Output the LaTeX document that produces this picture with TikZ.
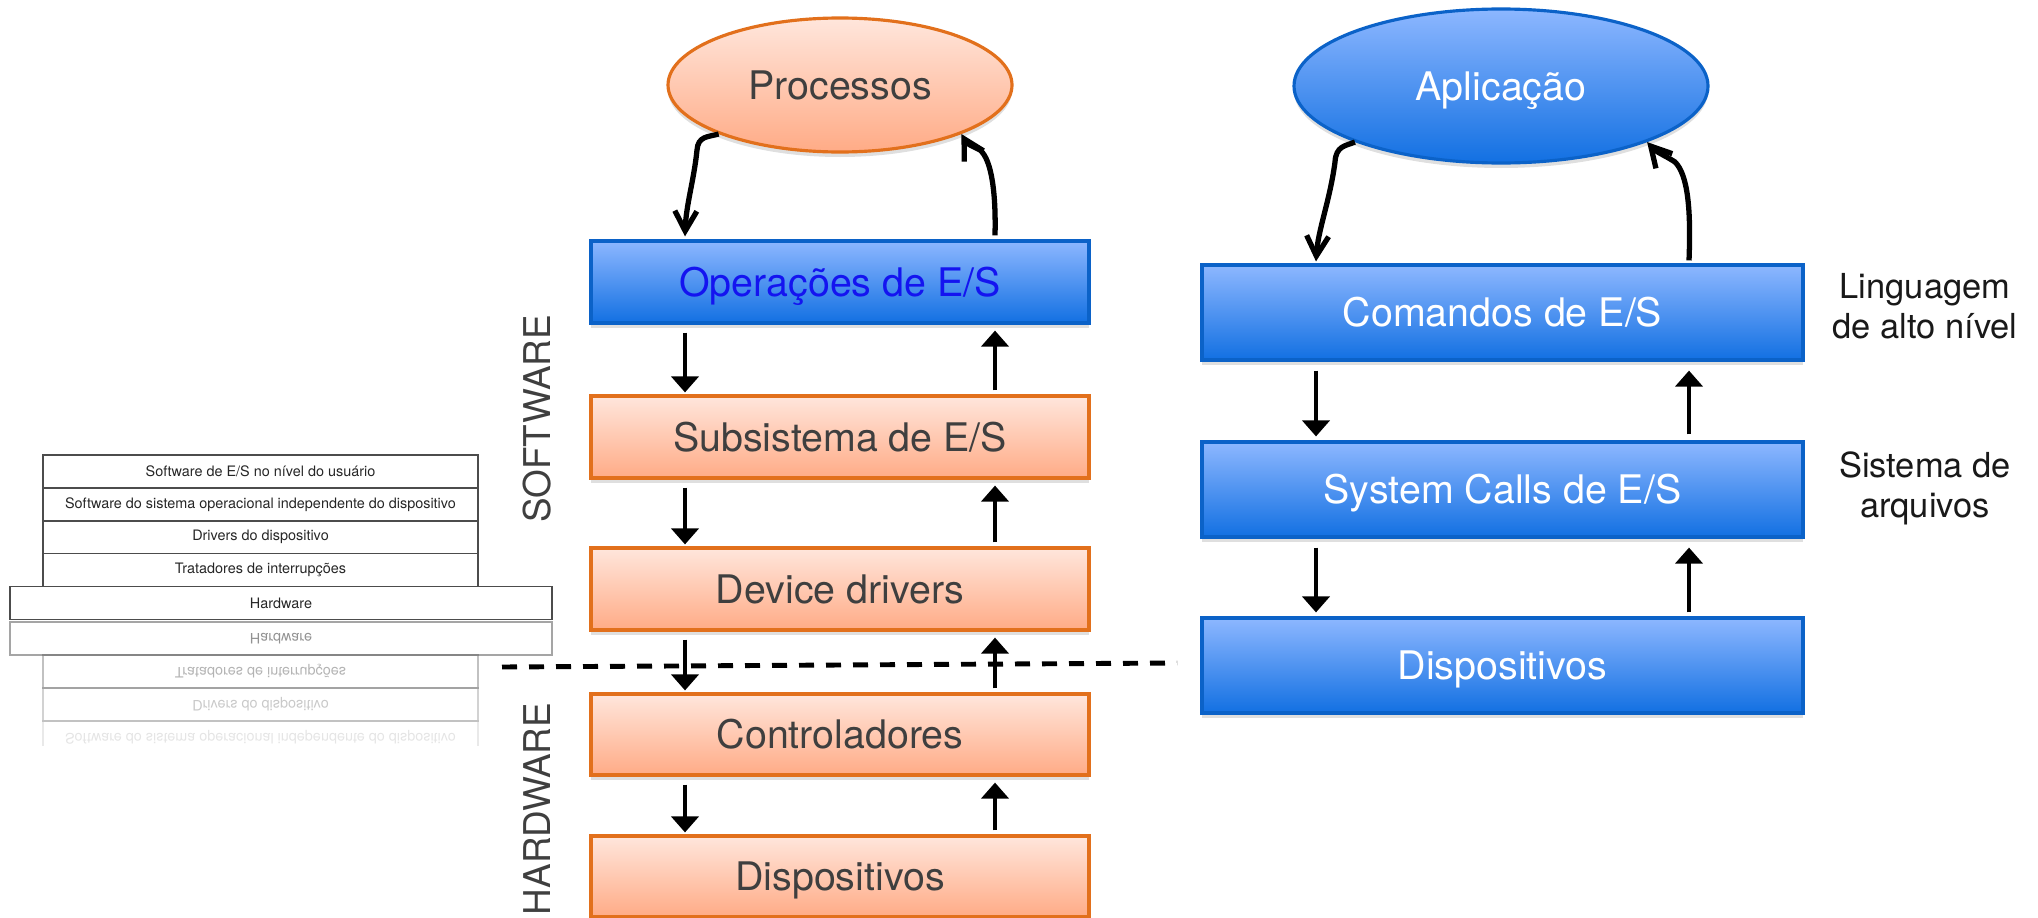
\documentclass[tikz,border=0pt]{standalone}
\usepackage{fontspec}
\setmainfont{TeX Gyre Heros}
\usepackage{graphicx}
\usetikzlibrary{shapes.geometric,arrows.meta,shadows}

\definecolor{laranja}{HTML}{E2701C}
\definecolor{laranjaA}{HTML}{FFE6DC}
\definecolor{laranjaB}{HTML}{FFAB86}
\definecolor{azul}{HTML}{0B62C8}
\definecolor{azulA}{HTML}{8DB7FF}
\definecolor{azulB}{HTML}{1270E2}
\definecolor{cinza}{HTML}{3F3F3F}
\definecolor{azultexto}{HTML}{1414F0}

\begin{document}
\begin{tikzpicture}

      \tikzset{sombra/.style={drop shadow={shadow xshift=0pt, shadow yshift=-0.5mm, opacity=0.25}},
               fonte/.style={font=\fontsize{11.2}{13}\selectfont, text height=8pt, text depth=0pt},
               caixaL/.style={rectangle, draw=laranja, line width=0.9pt, top color=laranjaA, bottom color=laranjaB, inner sep=0pt, minimum width=4.98cm, minimum height=0.82cm, text=cinza, fonte, sombra},
               caixaA/.style={rectangle, draw=azul, line width=0.9pt, top color=azulA, bottom color=azulB, inner sep=0pt, minimum width=6.01cm, minimum height=0.95cm, text=white, fonte, sombra},
               elipse/.style={ellipse, line width=0.9pt, inner sep=0pt, fonte, sombra},
               seta/.style={line width=1.4pt, -{Triangle[length=1.6mm, width=2.7mm]}},
               curva/.style={line width=1.5pt, -{Straight Barb[length=2mm, width=2.2mm]}},
               linha/.style={rectangle, draw=black!70, line width=0.5pt, inner sep=0pt, minimum height=0.33cm, text=black!85, font=\fontsize{4.1}{5}\selectfont},
               rotulo/.style={align=center, text=black!90, font=\fontsize{9.8}{11.4}\selectfont}}

      \useasboundingbox (0,0) rectangle (20.38,-9.18);

%% Table
      	\node[linha, minimum width=4.35cm] (t1) at (2.605,-4.715) {Software de E/S no nível do usuário};
      	\node[linha, minimum width=4.35cm] (t2) at (2.605,-5.045) {Software do sistema operacional independente do dispositivo};
      	\node[linha, minimum width=4.35cm] (t3) at (2.605,-5.37) {Drivers do dispositivo};
      	\node[linha, minimum width=4.35cm] (t4) at (2.605,-5.70) {Tratadores de interrupções};
      	\node[linha, minimum width=5.42cm] (t5) at (2.81,-6.03) {Hardware};
      	\node[linha, minimum width=5.42cm, opacity=0.5] (r5) at (2.81,-6.385) {\scalebox{1}[-1]{Hardware}};
      	\node[linha, minimum width=4.35cm, opacity=0.35] (r4) at (2.605,-6.715) {\scalebox{1}[-1]{Tratadores de interrupções}};
      	\node[linha, minimum width=4.35cm, opacity=0.25] (r3) at (2.605,-7.045) {\scalebox{1}[-1]{Drivers do dispositivo}};
      	\begin{scope}
      	\clip (0,-7.2) rectangle (6,-7.45);
      	\node[linha, minimum width=4.35cm, opacity=0.12] (r2) at (2.605,-7.375) {\scalebox{1}[-1]{Software do sistema operacional independente do dispositivo}};
      	\end{scope}

%% Labels
      	\node[rotulo, rotate=90, font=\fontsize{10.5}{12}\selectfont, text=cinza] (soft) at (5.375,-4.19) {SOFTWARE};
      	\node[rotulo, rotate=90, font=\fontsize{10.5}{12}\selectfont, text=cinza] (hard) at (5.375,-8.09) {HARDWARE};
      	\node[rotulo] (ling) at (19.25,-3.06) {Linguagem\\de alto nível};
      	\node[rotulo] (sist) at (19.25,-4.88) {Sistema de\\arquivos};

%Divider
      	\coordinate (tracoA) at (5.02,-6.67);
      	\coordinate (tracoB) at (11.77,-6.63);
      	\draw[line width=1.4pt, dash pattern=on 1.5mm off 1.2mm] (tracoA) -- (tracoB);

%% Left column
      	\node[elipse, draw=laranja, top color=laranjaA, bottom color=laranjaB, text=cinza, minimum width=3.44cm, minimum height=1.34cm] (proc) at (8.40,-0.85) {Processos};
      	\node[caixaA, minimum width=4.98cm, minimum height=0.82cm, text=azultexto] (op) at (8.40,-2.82) {Operações de E/S};
      	\node[caixaL] (sub) at (8.40,-4.37) {Subsistema de E/S};
      	\node[caixaL] (dd) at (8.40,-5.89) {Device drivers};
      	\node[caixaL, minimum height=0.81cm] (ctrl) at (8.40,-7.345) {Controladores};
      	\node[caixaL, minimum height=0.81cm] (disp) at (8.40,-8.765) {Dispositivos};

%% Right column
      	\node[elipse, draw=azul, top color=azulA, bottom color=azulB, text=white, minimum width=4.14cm, minimum height=1.54cm] (apl) at (15.01,-0.86) {Aplicação};
      	\node[caixaA] (cmd) at (15.025,-3.125) {Comandos de E/S};
      	\node[caixaA] (sc) at (15.025,-4.895) {System Calls de E/S};
      	\node[caixaA] (disp2) at (15.025,-6.655) {Dispositivos};

%Arrows
		\draw[curva] (proc.202) .. controls (7.08,-1.37) and (6.98,-1.36) .. (6.97,-1.50) .. controls (6.94,-1.80) and (6.86,-2.05) .. ([xshift=-1.55cm, yshift=0.3mm]op.north);
		\draw[curva] ([xshift=1.55cm, yshift=0.4mm]op.north) .. controls (9.96,-1.95) and (9.92,-1.60) .. (9.80,-1.50) .. controls (9.72,-1.46) and (9.67,-1.44) .. (proc.338);
		\draw[seta] ([xshift=-1.55cm, yshift=-0.8mm]op.south) -- ([xshift=-1.55cm, yshift=0.2mm]sub.north);
		\draw[seta] ([xshift=1.55cm, yshift=0.4mm]sub.north) -- ([xshift=1.55cm, yshift=-0.6mm]op.south);
		\draw[seta] ([xshift=-1.55cm, yshift=-0.8mm]sub.south) -- ([xshift=-1.55cm, yshift=0.2mm]dd.north);
		\draw[seta] ([xshift=1.55cm, yshift=0.4mm]dd.north) -- ([xshift=1.55cm, yshift=-0.6mm]sub.south);
		\draw[seta] ([xshift=-1.55cm, yshift=-0.8mm]dd.south) -- ([xshift=-1.55cm, yshift=0.2mm]ctrl.north);
		\draw[seta] ([xshift=1.55cm, yshift=0.4mm]ctrl.north) -- ([xshift=1.55cm, yshift=-0.6mm]dd.south);
		\draw[seta] ([xshift=-1.55cm, yshift=-0.8mm]ctrl.south) -- ([xshift=-1.55cm, yshift=0.2mm]disp.north);
		\draw[seta] ([xshift=1.55cm, yshift=0.4mm]disp.north) -- ([xshift=1.55cm, yshift=-0.6mm]ctrl.south);

		\draw[curva] (apl.201) .. controls (13.45,-1.46) and (13.36,-1.46) .. (13.35,-1.62) .. controls (13.30,-2.0) and (13.18,-2.3) .. ([xshift=-1.865cm, yshift=0.2mm]cmd.north);
		\draw[curva] ([xshift=1.865cm, yshift=0.3mm]cmd.north) .. controls (16.91,-2.1) and (16.88,-1.75) .. (16.75,-1.62) .. controls (16.66,-1.56) and (16.56,-1.52) .. (apl.339);
		\draw[seta] ([xshift=-1.865cm, yshift=-0.9mm]cmd.south) -- ([xshift=-1.865cm, yshift=0.4mm]sc.north);
		\draw[seta] ([xshift=1.865cm, yshift=0.6mm]sc.north) -- ([xshift=1.865cm, yshift=-0.9mm]cmd.south);
		\draw[seta] ([xshift=-1.865cm, yshift=-0.9mm]sc.south) -- ([xshift=-1.865cm, yshift=0.4mm]disp2.north);
		\draw[seta] ([xshift=1.865cm, yshift=0.4mm]disp2.north) -- ([xshift=1.865cm, yshift=-0.9mm]sc.south);

	\end{tikzpicture}
\end{document}
